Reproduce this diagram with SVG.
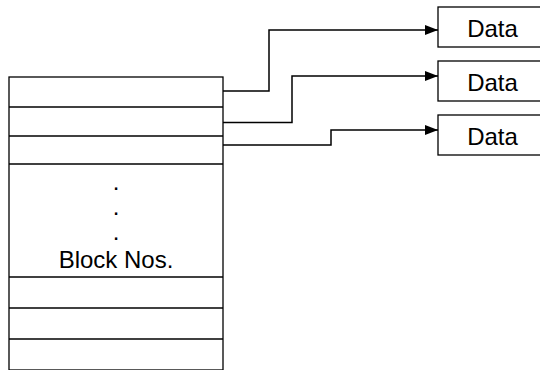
<svg xmlns="http://www.w3.org/2000/svg" width="540" height="370" viewBox="0 0 540 370">
<defs>
<style>
.ln{fill:none;stroke:#000;stroke-width:1.5}
.bx{fill:#fff;stroke:#000;stroke-width:1.3}
.t{font-family:"Liberation Sans",Arial,sans-serif;font-size:24px;fill:#000;text-anchor:middle}
</style>
<marker id="ah" markerWidth="13" markerHeight="10" refX="13" refY="5" orient="auto" markerUnits="userSpaceOnUse">
<path d="M0,0 L13,5 L0,10 Z" fill="#000"/>
</marker>
</defs>
<rect width="540" height="370" fill="#fff"/>
<g id="table">
<rect class="bx" x="9" y="77" width="214" height="293"/>
<line class="bx" x1="9" y1="107" x2="223" y2="107"/>
<line class="bx" x1="9" y1="136" x2="223" y2="136"/>
<line class="bx" x1="9" y1="164" x2="223" y2="164"/>
<line class="bx" x1="9" y1="277" x2="223" y2="277"/>
<line class="bx" x1="9" y1="308" x2="223" y2="308"/>
<line class="bx" x1="9" y1="339" x2="223" y2="339"/>
<text class="t" x="116" y="190">.</text>
<text class="t" x="116" y="215">.</text>
<text class="t" x="116" y="240">.</text>
<text class="t" x="116" y="268">Block Nos.</text>
</g>
<g id="data1"><rect class="bx" x="438" y="7" width="110" height="40"/><text class="t" x="492.5" y="36.5">Data</text></g>
<g id="data2"><rect class="bx" x="438" y="61" width="110" height="40"/><text class="t" x="492.5" y="90.5">Data</text></g>
<g id="data3"><rect class="bx" x="438" y="115" width="110" height="40"/><text class="t" x="492.5" y="144.5">Data</text></g>
<g id="connectors">
<polyline class="ln" points="223,91 269,91 269,30 438,30" marker-end="url(#ah)"/>
<polyline class="ln" points="223,122.5 292,122.5 292,76 438,76" marker-end="url(#ah)"/>
<polyline class="ln" points="223,145 331,145 331,130 438,130" marker-end="url(#ah)"/>
</g>
</svg>
